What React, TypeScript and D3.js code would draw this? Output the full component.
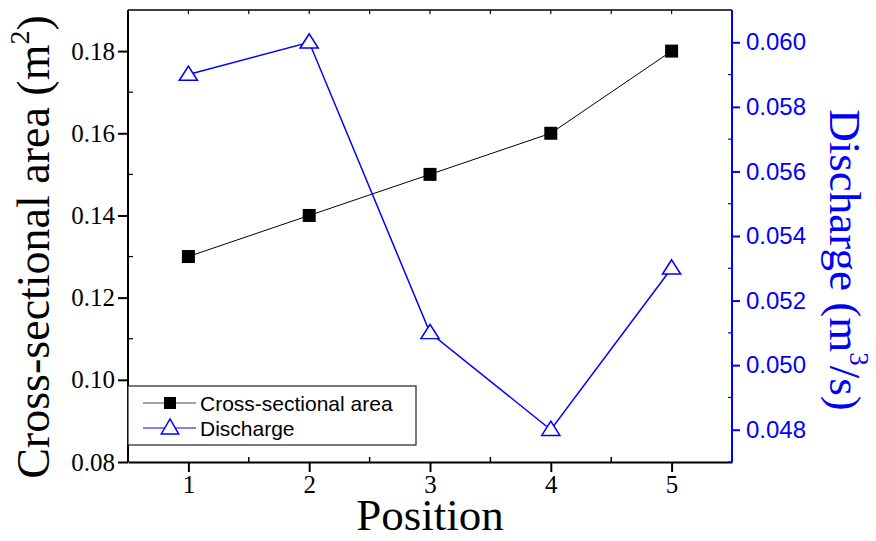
import * as d3 from "d3";
import { useEffect, useRef } from "react";

const positions = [1, 2, 3, 4, 5];
const areaValues = [0.13, 0.14, 0.15, 0.16, 0.18];
const dischargeValues = [0.059, 0.06, 0.051, 0.048, 0.053];
const areaTicks = [0.08, 0.1, 0.12, 0.14, 0.16, 0.18];
const areaMinor = [0.09, 0.11, 0.13, 0.15, 0.17];
const dischargeTicks = [0.048, 0.05, 0.052, 0.054, 0.056, 0.058, 0.06];
const dischargeMinor = [0.047, 0.049, 0.051, 0.053, 0.055, 0.057, 0.059];
const posMinor = [1.5, 2.5, 3.5, 4.5];
const legendNames = ["Cross-sectional area", "Discharge"];

const SERIF = "Liberation Serif";
const SANS = "Liberation Sans";
const BLUE = "#0000ff";

const App = () => {
  const ref = useRef<SVGSVGElement>(null);

  useEffect(() => {
    const svg = d3.select(ref.current);
    svg.selectAll("*").remove();

    const width = 876, height = 541;
    const margin = { top: 10, right: 144, bottom: 79, left: 128 };
    const iw = width - margin.left - margin.right;
    const ih = height - margin.top - margin.bottom;

    const x = d3.scaleLinear().domain([0.5, 5.5]).range([0, iw]);
    const yL = d3.scaleLinear().domain([0.08, 0.19]).range([ih, 0]);
    const yR = d3.scaleLinear().domain([0.047, 0.061]).range([ih, 0]);

    const g = svg.append("g").attr("transform", `translate(${margin.left},${margin.top})`);

    // bottom axis
    const bottom = g.append("g").attr("transform", `translate(0,${ih})`)
      .call(d3.axisBottom(x).tickValues(positions).tickFormat(d3.format("d")).tickSize(10).tickPadding(3).tickSizeOuter(0))
      .attr("font-family", SERIF).attr("font-size", 25);
    bottom.selectAll("text").style("font-family", SERIF).attr("fill", "#000");
    bottom.selectAll("line,path").attr("stroke", "#000").attr("stroke-width", 2);
    g.append("g").attr("transform", `translate(0,${ih})`)
      .selectAll("line").data(posMinor).join("line")
      .attr("x1", d => x(d)).attr("x2", d => x(d)).attr("y1", 0).attr("y2", -5)
      .attr("stroke", "#000").attr("stroke-width", 1.5);

    // top axis
    g.append("line").attr("x1", 0).attr("x2", iw).attr("y1", 0).attr("y2", 0)
      .attr("stroke", "#000").attr("stroke-width", 1.5);
    g.append("g").selectAll("line").data(positions.concat(posMinor)).join("line")
      .attr("x1", d => x(d)).attr("x2", d => x(d)).attr("y1", 0).attr("y2", 4)
      .attr("stroke", "#000").attr("stroke-width", 1.2);

    // left axis
    const left = g.append("g")
      .call(d3.axisLeft(yL).tickValues(areaTicks).tickFormat(d3.format(".2f")).tickSize(10).tickPadding(3).tickSizeOuter(0))
      .attr("font-family", SERIF).attr("font-size", 25);
    left.selectAll("text").style("font-family", SERIF).attr("fill", "#000");
    left.selectAll("line,path").attr("stroke", "#000").attr("stroke-width", 2);
    left.select("path").attr("d", `M0,${ih}V0`);
    g.append("g").selectAll("line").data(areaMinor).join("line")
      .attr("x1", 0).attr("x2", 5).attr("y1", d => yL(d)).attr("y2", d => yL(d))
      .attr("stroke", "#000").attr("stroke-width", 1.2);

    // right axis
    const right = g.append("g").attr("transform", `translate(${iw},0)`)
      .call(d3.axisRight(yR).tickValues(dischargeTicks).tickFormat(d3.format(".3f")).tickSize(8).tickPadding(6).tickSizeOuter(0))
      .attr("font-family", SANS).attr("font-size", 24);
    right.selectAll("text").style("font-family", SANS).attr("fill", BLUE);
    right.selectAll("line,path").attr("stroke", BLUE).attr("stroke-width", 2);
    right.select("path").attr("d", `M0,${ih}V0`);
    g.append("g").attr("transform", `translate(${iw},0)`)
      .selectAll("line").data(dischargeMinor).join("line")
      .attr("x1", 0).attr("x2", -4).attr("y1", d => yR(d)).attr("y2", d => yR(d))
      .attr("stroke", BLUE).attr("stroke-width", 1.2);

    // series
    const areaLine = d3.line<number>().x((d, i) => x(positions[i])).y(d => yL(d));
    const dischargeLine = d3.line<number>().x((d, i) => x(positions[i])).y(d => yR(d));
    const tri = d3.symbol().type(d3.symbolTriangle).size(130);

    g.append("path").attr("d", areaLine(areaValues)).attr("fill", "none").attr("stroke", "#000").attr("stroke-width", 1);
    g.append("path").attr("d", dischargeLine(dischargeValues)).attr("fill", "none").attr("stroke", BLUE).attr("stroke-width", 1.5);

    g.selectAll(".sq").data(areaValues).join("rect")
      .attr("x", (d, i) => x(positions[i]) - 6.5).attr("y", d => yL(d) - 6.5)
      .attr("width", 13).attr("height", 13).attr("fill", "#000");
    g.selectAll(".tri").data(dischargeValues).join("path")
      .attr("d", tri)
      .attr("transform", (d, i) => `translate(${x(positions[i])},${yR(d) + 1}) scale(1.05,0.95)`)
      .attr("fill", "#fff").attr("stroke", BLUE).attr("stroke-width", 1.5);

    // legend
    const lg = g.append("g").attr("transform", `translate(0,${yL(0.0985)})`);
    lg.append("rect").attr("x", 0).attr("y", 0).attr("width", 288).attr("height", 59)
      .attr("fill", "#fff").attr("stroke", "#222").attr("stroke-width", 1.2);
    legendNames.forEach((name, i) => {
      const cy = 17 + i * 25;
      const color = i === 0 ? "#000" : BLUE;
      lg.append("line").attr("x1", 15).attr("x2", 68).attr("y1", cy).attr("y2", cy)
        .attr("stroke", i === 0 ? "#444" : BLUE).attr("stroke-width", 1.2);
      if (i === 0) {
        lg.append("rect").attr("x", 36).attr("y", cy - 6).attr("width", 12).attr("height", 12).attr("fill", "#000");
      } else {
        lg.append("path").attr("d", tri).attr("transform", `translate(42,${cy + 1})`)
          .attr("fill", "#fff").attr("stroke", color).attr("stroke-width", 1.5);
      }
      lg.append("text").attr("x", 72).attr("y", cy + 8).attr("font-family", SANS).attr("font-size", 21)
        .attr("fill", "#000").text(name);
    });

    // titles
    svg.append("text").attr("x", margin.left + iw / 2).attr("y", 530).attr("text-anchor", "middle")
      .attr("font-family", SERIF).attr("font-size", 45).text("Position");

    const lt = svg.append("text").attr("transform", `translate(49,247) rotate(-90)`).attr("text-anchor", "middle")
      .attr("font-family", SERIF).attr("font-size", 46);
    lt.append("tspan").text("Cross-sectional area (m");
    lt.append("tspan").attr("font-size", 28).attr("dy", -20).text("2");
    lt.append("tspan").attr("dy", 20).text(")");

    const rt = svg.append("text").attr("transform", `translate(830,260) rotate(90)`).attr("text-anchor", "middle")
      .attr("font-family", SERIF).attr("font-size", 45).attr("fill", BLUE);
    rt.append("tspan").text("Discharge (m");
    rt.append("tspan").attr("font-size", 27).attr("dy", -20).text("3");
    rt.append("tspan").attr("dy", 20).text("/s)");
  }, []);

  return (
    <svg ref={ref} width={876} height={541}
      style={{ position: "absolute", left: 0, top: 0, background: "#fff" }} />
  );
};

export default App;
